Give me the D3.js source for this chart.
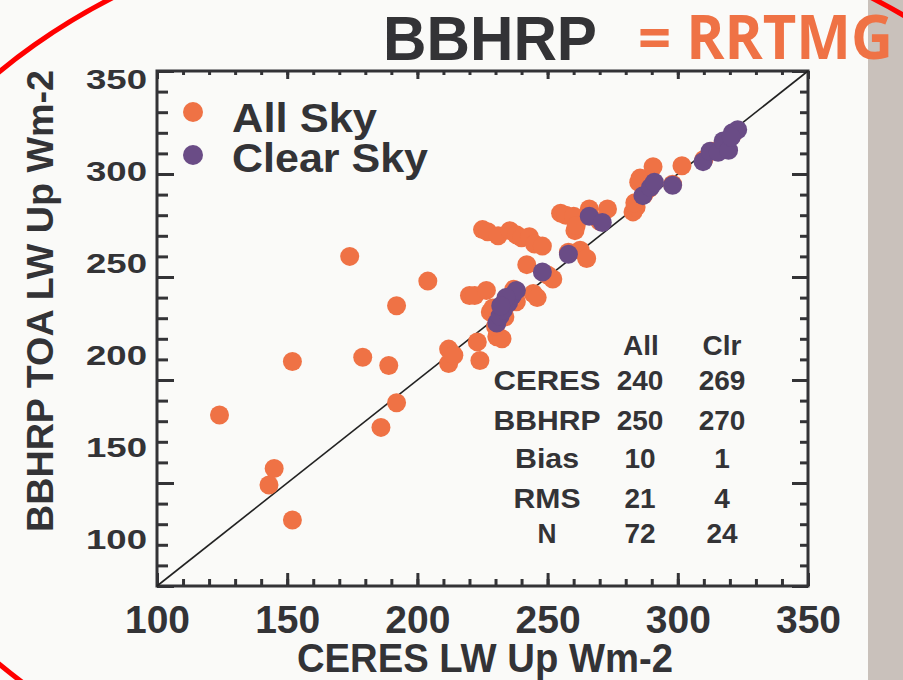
<!DOCTYPE html>
<html>
<head>
<meta charset="utf-8">
<script src="https://cdn.jsdelivr.net/npm/d3@7/dist/d3.min.js"></script>
<style>
  body { margin: 0; background: #fafaf8; }
  svg { display: block; font-family: "Liberation Sans", Arial, sans-serif; font-weight: bold; }
</style>
</head>
<body>
<div id="chart"></div>
<script>
// All Sky (CERES, BBHRP) pairs
const allSkyX = [124, 143, 145, 152, 152, 174, 179, 186, 189, 192, 192, 204, 212, 212, 214, 220, 222, 226.5, 223, 224,
  228, 229, 230.5, 232.5, 225, 227, 231, 235.5, 238, 240, 243, 245, 248, 242, 244.5, 246, 250, 252, 255, 257,
  260, 260.5, 261, 262.5, 265, 266, 273, 282.8, 284, 283.5, 285, 285.5, 290.5, 301.6, 258, 266, 236, 231, 289, 310,
  313, 318, 321, 230, 238, 233.6, 270, 287, 316, 234, 298, 237];
const allSkyY = [183, 149, 157, 132, 209, 260, 211, 177, 207, 189, 236, 248, 215, 208, 212, 241, 241, 243.5, 218.5, 209.5,
  233, 235, 221, 220, 273, 272, 270, 272.5, 270.5, 269, 269.5, 266, 265, 256, 242, 240, 251, 249, 281, 280,
  279.5, 272.5, 275, 263, 259, 283, 283, 281.6, 284, 286, 296, 298, 303.5, 304, 262, 280, 240, 230, 293, 307,
  311, 315, 319, 226, 238, 230.6, 277, 290, 312, 236, 295, 244];

// Clear Sky pairs
const clearSkyX = [230.5, 231.7, 233, 235, 236.5, 238, 234, 232, 248, 258, 266, 271, 286.6, 289.5, 291, 298, 309.7, 312.4,
  315.5, 317.4, 319.5, 321, 323, 320.5];
const clearSkyY = [227.7, 231, 234, 237.5, 241, 243.5, 240, 236, 252.4, 261, 279.5, 276.5, 289.5, 293.5, 296, 294.5, 306, 311,
  310.5, 316, 311.5, 320, 321.5, 318];

const majorTicks = [100, 150, 200, 250, 300, 350];
const minorTicks = d3.range(100, 351, 10);
const oneToOne = [100, 350];

const legendNames = ["All Sky", "Clear Sky"];
const statHeads = ["All", "Clr"];
const statNames = ["CERES", "BBHRP", "Bias", "RMS", "N"];
const statAll = ["240", "250", "10", "21", "72"];
const statClr = ["269", "270", "1", "4", "24"];

const width = 903, height = 680;
const ink = "#333336";
const orange = "#ef7245";
const purple = "#6a4c86";

const svg = d3.select("#chart").append("svg")
  .attr("width", width)
  .attr("height", height);

svg.append("rect").attr("width", width).attr("height", height).attr("fill", "#fafaf8");
// slide side bar
svg.append("rect").attr("x", 868).attr("y", 0).attr("width", 35).attr("height", height).attr("fill", "#c9c1bb");

const x = d3.scaleLinear().domain([100, 350]).range([157, 808]);
const y = d3.scaleLinear().domain([100, 350]).range([586, 71]);
// tick labels on the y side sit on their own spacing in the original
const yLabel = d3.scaleLinear().domain([100, 350]).range([548, 88]);

// ticks on all four sides, pointing inward
function ticks(axis, tx, ty, vals, size) {
  const g = svg.append("g")
    .attr("transform", "translate(" + [tx, ty] + ")")
    .call(axis.tickValues(vals).tickSize(-size).tickFormat(""));
  g.select(".domain").remove();
  g.selectAll("line").attr("stroke", ink).attr("stroke-width", 3);
}
ticks(d3.axisLeft(y), 157, 0, minorTicks, 11);
ticks(d3.axisLeft(y), 157, 0, majorTicks, 17);
ticks(d3.axisRight(y), 808, 0, minorTicks, 8);
ticks(d3.axisRight(y), 808, 0, majorTicks, 16);
ticks(d3.axisTop(x), 0, 71, minorTicks, 4);
ticks(d3.axisTop(x), 0, 71, majorTicks, 8);
ticks(d3.axisBottom(x), 0, 586, minorTicks, 7);
ticks(d3.axisBottom(x), 0, 586, majorTicks, 13);

svg.append("rect")
  .attr("x", 157).attr("y", 71)
  .attr("width", 808 - 157).attr("height", 586 - 71)
  .attr("fill", "none").attr("stroke", ink).attr("stroke-width", 3);

// tick labels
const xl = svg.append("g")
  .attr("transform", "translate(0,633)")
  .call(d3.axisBottom(x).tickValues(majorTicks).tickSize(0));
xl.select(".domain").remove();
xl.selectAll("text").attr("y", 0).attr("dy", 0)
  .attr("font-size", 39).attr("font-family", "Liberation Sans, Arial").attr("font-weight", "bold").attr("fill", ink);

const yl = svg.append("g")
  .attr("transform", "translate(147,0)")
  .call(d3.axisLeft(yLabel).tickValues(majorTicks).tickSize(0));
yl.select(".domain").remove();
yl.selectAll("text").attr("x", 0).attr("dy", 0)
  .attr("font-size", 28).attr("font-family", "Liberation Sans, Arial").attr("font-weight", "bold").attr("fill", ink)
  .attr("textLength", 61).attr("lengthAdjust", "spacingAndGlyphs");

// axis titles
svg.append("text")
  .attr("x", 485).attr("y", 672)
  .attr("text-anchor", "middle")
  .attr("font-size", 41).attr("fill", ink)
  .attr("textLength", 376).attr("lengthAdjust", "spacingAndGlyphs")
  .text("CERES LW Up Wm-2");

svg.append("text")
  .attr("transform", "translate(53,301) rotate(-90)")
  .attr("text-anchor", "middle")
  .attr("font-size", 36).attr("fill", ink)
  .attr("textLength", 462).attr("lengthAdjust", "spacingAndGlyphs")
  .text("BBHRP TOA LW Up Wm-2");

// 1:1 line
svg.append("path")
  .datum(oneToOne)
  .attr("d", d3.line().x(d => x(d)).y(d => y(d)))
  .attr("stroke", "#222").attr("stroke-width", 1.6).attr("fill", "none");

// points
svg.append("g").selectAll("circle")
  .data(allSkyX.map((v, i) => [v, allSkyY[i]]))
  .join("circle")
  .attr("cx", d => x(d[0])).attr("cy", d => y(d[1])).attr("r", 9.5)
  .attr("fill", orange);

svg.append("g").selectAll("circle")
  .data(clearSkyX.map((v, i) => [v, clearSkyY[i]]))
  .join("circle")
  .attr("cx", d => x(d[0])).attr("cy", d => y(d[1])).attr("r", 9.5)
  .attr("fill", purple);

// legend
const legend = svg.append("g");
legend.selectAll("circle")
  .data(legendNames)
  .join("circle")
  .attr("cx", 193).attr("cy", (d, i) => 112 + i * 43).attr("r", 10)
  .attr("fill", (d, i) => i ? purple : orange);
legend.selectAll("text")
  .data(legendNames)
  .join("text")
  .attr("x", 232).attr("y", (d, i) => 132 + i * 40)
  .attr("font-size", 40).attr("fill", ink)
  .attr("textLength", (d, i) => i ? 196 : 145).attr("lengthAdjust", "spacingAndGlyphs")
  .text(d => d);

// stats table
const table = svg.append("g").attr("font-size", 28).attr("fill", ink).attr("text-anchor", "middle");
const rowY = [390, 430, 468, 508, 543];
const nameLen = [107, 107, 64, 67, 19];
table.selectAll(".head")
  .data(statHeads)
  .join("text")
  .attr("class", "head")
  .attr("x", (d, i) => i ? 722 : 641).attr("y", 355)
  .text(d => d);
table.selectAll(".name")
  .data(statNames)
  .join("text")
  .attr("class", "name")
  .attr("x", 547).attr("y", (d, i) => rowY[i])
  .attr("textLength", (d, i) => nameLen[i]).attr("lengthAdjust", "spacingAndGlyphs")
  .text(d => d);
table.selectAll(".all")
  .data(statAll)
  .join("text")
  .attr("class", "all")
  .attr("x", 640).attr("y", (d, i) => rowY[i])
  .text(d => d);
table.selectAll(".clr")
  .data(statClr)
  .join("text")
  .attr("class", "clr")
  .attr("x", 722).attr("y", (d, i) => rowY[i])
  .text(d => d);

// slide title
svg.append("text")
  .attr("x", 383).attr("y", 60)
  .attr("font-size", 63).attr("fill", ink)
  .attr("textLength", 214).attr("lengthAdjust", "spacingAndGlyphs")
  .text("BBHRP");
svg.append("text")
  .attr("x", 638).attr("y", 59)
  .attr("font-family", "'Open Sans', sans-serif")
  .attr("font-size", 61).attr("fill", orange)
  .attr("textLength", 255).attr("lengthAdjust", "spacingAndGlyphs")
  .text("= RRTMG");

// red ring round the slide
svg.append("ellipse")
  .attr("cx", 492).attr("cy", 368).attr("rx", 647).attr("ry", 457)
  .attr("fill", "none").attr("stroke", "#ff0000").attr("stroke-width", 5);
</script>
</body>
</html>
